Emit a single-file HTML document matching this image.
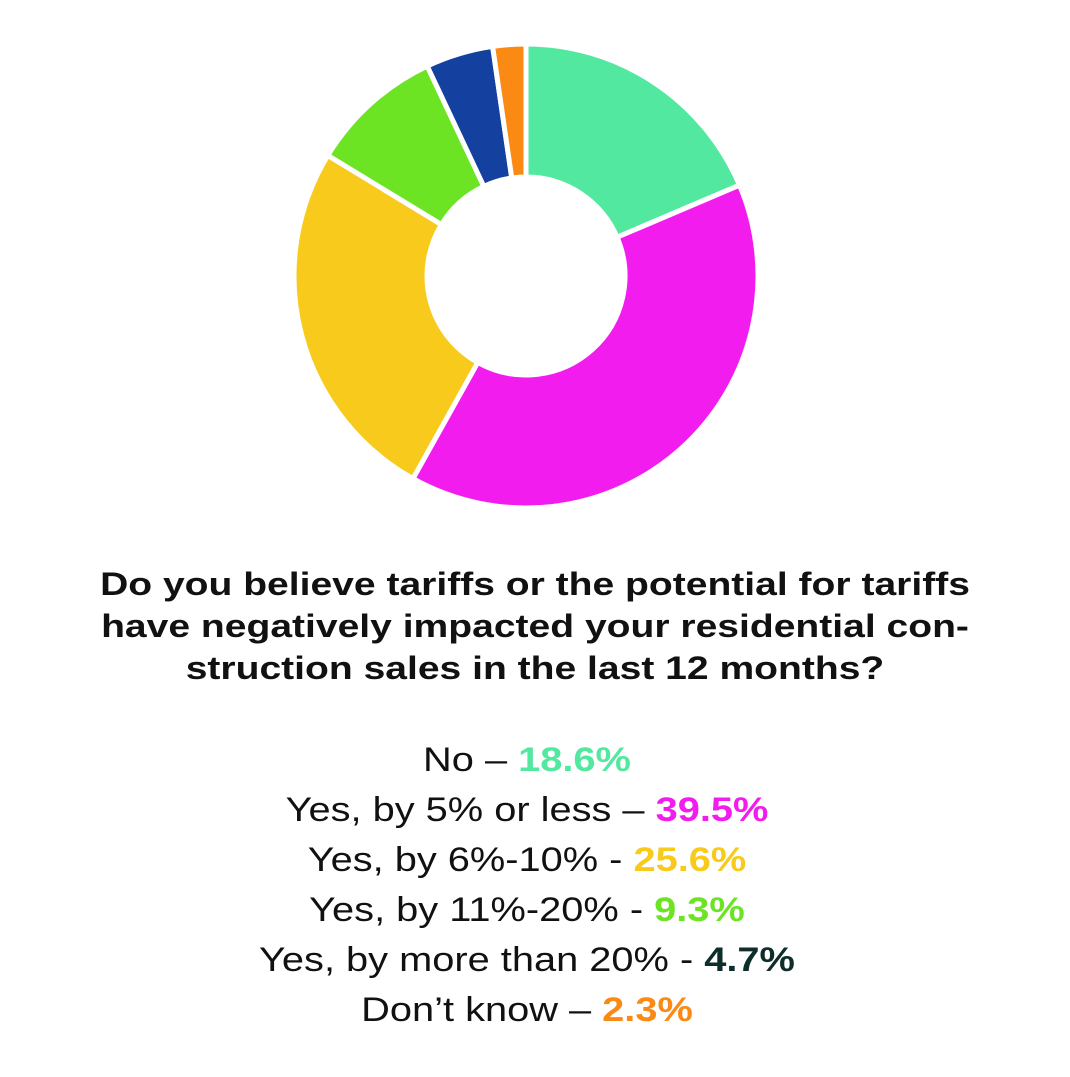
<!DOCTYPE html>
<html><head><meta charset="utf-8"><style>
body{margin:0;width:1070px;height:1077px;background:#fff;overflow:hidden;font-family:"Liberation Sans",sans-serif;}
.t{position:absolute;left:0;width:1070px;text-align:center;font-weight:bold;font-size:32px;line-height:42px;top:563px;color:#111;transform:scaleX(1.22);transform-origin:535px 0}
.l{position:absolute;left:-8px;width:1070px;text-align:center;font-size:34px;line-height:50px;top:735px;color:#111;transform:scaleX(1.17);transform-origin:535px 0}
.l b{font-weight:bold}
</style></head><body>
<svg id="s" width="1070" height="530" style="position:absolute;left:0;top:0"></svg>
<div class="t">Do you believe tariffs or the potential for tariffs<br>have negatively impacted your residential con-<br>struction sales in the last 12 months?</div>
<div class="l">No – <b style="color:#52E8A0">18.6%</b><br>Yes, by 5% or less – <b style="color:#F21CEE">39.5%</b><br>Yes, by 6%-10% - <b style="color:#F8CA1C">25.6%</b><br>Yes, by 11%-20% - <b style="color:#6CE423">9.3%</b><br>Yes, by more than 20% - <b style="color:#0D2E2A">4.7%</b><br>Don’t know – <b style="color:#FA8A14">2.3%</b></div>
<script>
var d=[[18.6,"#52E8A0"],[39.5,"#F21CEE"],[25.6,"#F8CA1C"],[9.3,"#6CE423"],[4.7,"#1440A0"],[2.3,"#FA8A14"]];
var cx=526,cy=276,R=232,r=99,a=0,h="";
function p(rad,ang){return (cx+rad*Math.sin(ang)).toFixed(2)+","+(cy-rad*Math.cos(ang)).toFixed(2);}
d.forEach(function(e){var a0=a/100*2*Math.PI;a+=e[0];var a1=a/100*2*Math.PI;var lg=(a1-a0)>Math.PI?1:0;
h+='<path d="M'+p(R,a0)+' A'+R+','+R+' 0 '+lg+' 1 '+p(R,a1)+' L'+p(r,a1)+' A'+r+','+r+' 0 '+lg+' 0 '+p(r,a0)+' Z" fill="'+e[1]+'" stroke="#fff" stroke-width="5" stroke-linejoin="miter"/>';});
document.getElementById("s").innerHTML=h;
</script>
</body></html>
